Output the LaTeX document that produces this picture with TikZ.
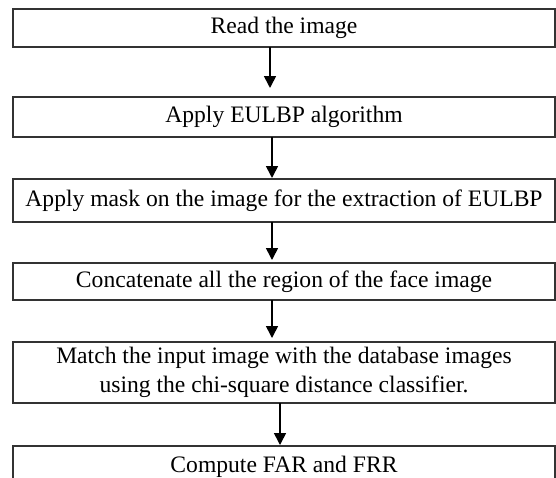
\documentclass[tikz,border=0pt]{standalone}
\usepackage{fontspec}
\setmainfont{Liberation Serif}
\usetikzlibrary{arrows.meta,positioning}

\begin{document}
\begin{tikzpicture}[->,>={Triangle[length=6pt,width=6pt]},shorten >=1.5pt,
  line width=0.8pt,
  stage/.style={draw=black!80,rectangle,minimum width=271pt,inner sep=0pt,
    outer sep=0pt,font=\fontsize{11.8}{14.5}\selectfont,align=center}]

\useasboundingbox (0,0) rectangle (278pt,-238.5pt);

\node[stage,minimum height=19pt,anchor=north west] (A) at (6.5pt,-4.5pt) {Read the image};
\node[stage,minimum height=20pt] (B) [below=25pt of A] {Apply EULBP algorithm};
\node[stage,minimum height=21.5pt] (C) [below=21pt of B] {Apply mask on the image for the extraction of EULBP};
\node[stage,minimum height=18.5pt] (D) [below=20.5pt of C] {Concatenate all the region of the face image};
\node[stage,minimum height=30.5pt] (E) [below=21pt of D] {Match the input image with the database images\\using the chi-square distance classifier.};
\node[stage,minimum height=20.5pt] (F) [below=21.5pt of E] {Compute FAR and FRR};

\path
  ([xshift=-7pt]A.south) edge[shorten >=4.5pt] ([xshift=-7pt]B.north)
  ([xshift=-6pt]B.south) edge[shorten >=0.5pt] ([xshift=-6pt]C.north)
  ([xshift=-6pt]C.south) edge ([xshift=-6pt]D.north)
  ([xshift=-6pt]D.south) edge[shorten >=2pt] ([xshift=-6pt]E.north)
  ([xshift=-2pt]E.south) edge[shorten >=0.5pt] ([xshift=-2pt]F.north)
  ;

\end{tikzpicture}
\end{document}
